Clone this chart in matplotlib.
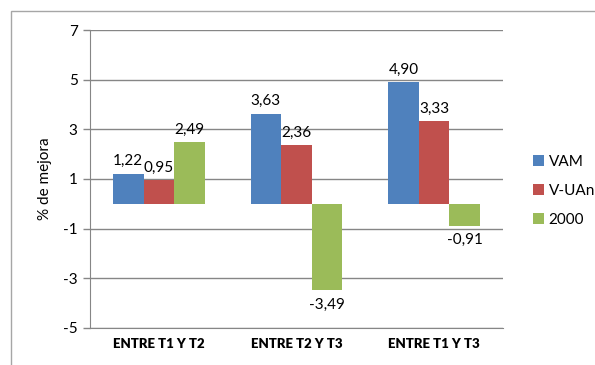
import numpy as np
import matplotlib.pyplot as plt
from matplotlib.patches import Rectangle, Patch

plt.rcParams['font.family'] = ['Lato', 'DejaVu Sans']

# datos del gráfico
categorias = ['ENTRE T1 Y T2', 'ENTRE T2 Y T3', 'ENTRE T1 Y T3']
series = ['VAM', 'V-UAn', '2000']
valores = {
    'VAM': [1.22, 3.63, 4.90],
    'V-UAn': [0.95, 2.36, 3.33],
    '2000': [2.49, -3.49, -0.91],
}
colores = ['#4F81BD', '#C0504D', '#9BBB59']
yticks = [-5, -3, -1, 1, 3, 5, 7]

fig = plt.figure(figsize=(5.95, 3.65), dpi=100)
ax = fig.add_axes([0.1513, 0.1014, 0.694, 0.8164])

# marco del área del gráfico
fig.patches.append(Rectangle((11 / 595, -0.5), 2, 1.5 - 11 / 365,
                             transform=fig.transFigure, fill=False,
                             edgecolor='#a6a6a6', linewidth=1))

x = np.arange(len(categorias))
ancho = 1 / 4.5
for i, (s, c) in enumerate(zip(series, colores)):
    pos = x + (i - 1) * ancho
    vals = valores[s]
    ax.bar(pos, vals, width=ancho, color=c, zorder=3)
    for p, v in zip(pos, vals):
        txt = f'{v:.2f}'.replace('.', ',')
        if v >= 0:
            ax.annotate(txt, (p, v), xytext=(0, 4), textcoords='offset points',
                        ha='center', va='bottom', fontsize=11)
        else:
            ax.annotate(txt, (p, v), xytext=(0, -5), textcoords='offset points',
                        ha='center', va='top', fontsize=11)

ax.set_xlim(-0.5, 2.5)
ax.set_ylim(-5, 7)
ax.set_yticks(yticks)
ax.set_yticklabels([str(t) for t in yticks], fontsize=11)
ax.set_xticks(x)
ax.set_xticklabels(categorias, fontsize=9.5, fontweight='heavy')
ax.tick_params(axis='x', length=0, pad=7)
ax.tick_params(axis='y', length=5, width=1, color='#868686', pad=4)
ax.grid(axis='y', color='#868686', linewidth=1, zorder=0)
for lado in ['top', 'right']:
    ax.spines[lado].set_visible(False)
for lado in ['left', 'bottom']:
    ax.spines[lado].set_color('#868686')
ax.set_ylabel('% de mejora', fontsize=11, labelpad=8)

handles = [Patch(facecolor=c, label=s) for s, c in zip(series, colores)]
fig.legend(handles=handles, loc='center left', bbox_to_anchor=(0.885, 0.477),
           frameon=False, fontsize=11, handlelength=0.75, handleheight=0.75,
           handletextpad=0.3, labelspacing=1.0, borderaxespad=0)

fig.savefig('out.png', dpi=100)
